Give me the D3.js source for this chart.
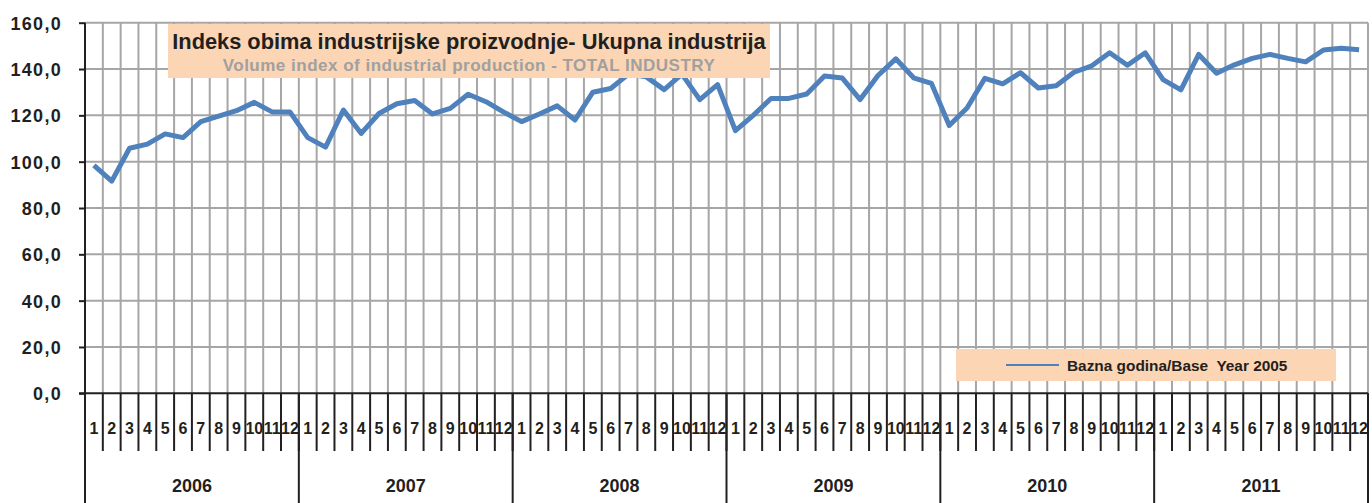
<!DOCTYPE html>
<html>
<head>
<meta charset="utf-8">
<script src="https://cdn.jsdelivr.net/npm/d3@7"></script>
<style>
  body { margin: 0; background: #fff; }
  svg { display: block; font-family: Arial, "Liberation Sans", sans-serif; }
  text { white-space: pre; }
</style>
</head>
<body>
<svg id="chart"></svg>
<script>
// monthly index, base year 2005
var years = [2006, 2007, 2008, 2009, 2010, 2011];
var months = [1, 2, 3, 4, 5, 6, 7, 8, 9, 10, 11, 12];
var v2006 = [98.4, 91.6, 105.8, 107.6, 112.0, 110.4, 117.3, 119.7, 122.0, 125.6, 121.5, 121.5];
var v2007 = [110.4, 106.3, 122.3, 112.2, 120.8, 125.0, 126.4, 120.6, 123.0, 129.1, 125.9, 121.4];
var v2008 = [117.3, 120.6, 124.1, 118.0, 130.0, 131.6, 137.8, 136.6, 131.1, 137.8, 126.8, 133.3];
var v2009 = [113.4, 120.0, 127.3, 127.3, 129.2, 137.0, 136.1, 126.8, 137.2, 144.4, 136.2, 133.8];
var v2010 = [115.6, 123.2, 136.0, 133.6, 138.4, 131.8, 132.8, 138.6, 141.4, 147.0, 141.6, 147.0];
var v2011 = [135.4, 131.0, 146.3, 138.2, 141.8, 144.6, 146.3, 144.6, 143.1, 148.2, 149.0, 148.3];
var yTicks = [0, 20, 40, 60, 80, 100, 120, 140, 160];
var titleText = "Indeks obima industrijske proizvodnje- Ukupna industrija";
var subtitleText = "Volume index of industrial production - TOTAL INDUSTRY";
var legendText = "Bazna godina/Base  Year 2005";

var values = [].concat(v2006, v2007, v2008, v2009, v2010, v2011);
var points = values.map(function(v, i){ return {i: i, v: v}; });

var screen = { width: 1372, height: 503 };
var plot = { left: 85, right: 1368, top: 22.7, bottom: 393.3 };
var black = "#231f20", grid = "#a6a6a6", peach = "#fcd5b4", blue = "#4f81bd";

var svg = d3.select("#chart")
            .attr("width", screen.width)
            .attr("height", screen.height);

var xScale = d3.scaleBand()
               .domain(d3.range(values.length))
               .range([plot.left, plot.right])
               .padding(0);
var yScale = d3.scaleLinear()
               .domain([0, 160])
               .range([plot.bottom, plot.top]);
var bw = xScale.bandwidth();

// horizontal grid
svg.append("g")
   .selectAll("line")
   .data(yTicks.filter(function(d){ return d > 0; }))
   .enter()
   .append("line")
   .attr("x1", plot.left).attr("x2", plot.right)
   .attr("y1", function(d){ return yScale(d); })
   .attr("y2", function(d){ return yScale(d); })
   .attr("stroke", grid).attr("stroke-width", 2);

// vertical grid at month boundaries
var bounds = d3.range(1, values.length + 1).map(function(i){
  return i < values.length ? xScale(i) : plot.right;
});
svg.append("g")
   .selectAll("line")
   .data(bounds)
   .enter()
   .append("line")
   .attr("x1", function(d){ return d; })
   .attr("x2", function(d){ return d; })
   .attr("y1", plot.top).attr("y2", plot.bottom)
   .attr("stroke", grid).attr("stroke-width", 2);

// y axis
var yAxis = d3.axisLeft(yScale)
              .tickValues(yTicks)
              .tickSize(6)
              .tickPadding(17)
              .tickFormat(function(d){ return d3.format(".1f")(d).replace(".", ","); });
var ya = svg.append("g")
            .attr("transform", "translate(" + plot.left + ",0)")
            .call(yAxis);
ya.select(".domain").remove();
ya.selectAll(".tick line").attr("stroke", black).attr("stroke-width", 2);
ya.selectAll(".tick text")
  .attr("fill", black)
  .attr("font-size", "18px")
  .attr("font-weight", "bold")
  .attr("letter-spacing", "1.3px")
  .attr("dy", "0.36em");

// data line
var line = d3.line()
             .x(function(d){ return xScale(d.i) + bw / 2; })
             .y(function(d){ return yScale(d.v); });
svg.append("path")
   .datum(points)
   .attr("d", line)
   .attr("fill", "none")
   .attr("stroke", blue)
   .attr("stroke-width", 5)
   .attr("stroke-linejoin", "round");

// axes lines
svg.append("line")
   .attr("x1", plot.left).attr("x2", plot.left)
   .attr("y1", plot.top).attr("y2", screen.height)
   .attr("stroke", black).attr("stroke-width", 2);
svg.append("line")
   .attr("x1", plot.left - 6).attr("x2", plot.right)
   .attr("y1", plot.bottom).attr("y2", plot.bottom)
   .attr("stroke", black).attr("stroke-width", 2);

// month ticks below axis
svg.append("g")
   .selectAll("line")
   .data(bounds)
   .enter()
   .append("line")
   .attr("x1", function(d){ return d; })
   .attr("x2", function(d){ return d; })
   .attr("y1", plot.bottom).attr("y2", 451)
   .attr("stroke", black).attr("stroke-width", 2);

// month labels
var xAxis = d3.axisBottom(xScale)
              .tickSize(0)
              .tickPadding(0)
              .tickFormat(function(i){ return months[i % 12]; });
var xa = svg.append("g")
            .attr("transform", "translate(0,428)")
            .call(xAxis);
xa.select(".domain").remove();
xa.selectAll(".tick text")
  .attr("fill", black)
  .attr("font-size", "16px")
  .attr("font-weight", "bold")
  .attr("dy", "0.36em");

// year separators and labels
var yearEdges = years.map(function(y, k){ return k === 0 ? plot.left : xScale(k * 12); }).concat([plot.right]);
svg.append("g")
   .selectAll("line")
   .data(yearEdges)
   .enter()
   .append("line")
   .attr("x1", function(d){ return d; })
   .attr("x2", function(d){ return d; })
   .attr("y1", plot.bottom).attr("y2", screen.height)
   .attr("stroke", black).attr("stroke-width", 2);
svg.append("g")
   .selectAll("text")
   .data(years)
   .enter()
   .append("text")
   .attr("x", function(d, k){ return (yearEdges[k] + yearEdges[k + 1]) / 2; })
   .attr("y", 492)
   .attr("text-anchor", "middle")
   .attr("fill", black)
   .attr("font-size", "18px")
   .attr("font-weight", "bold")
   .text(function(d){ return d; });

// title box
svg.append("rect")
   .attr("x", 168).attr("y", 24)
   .attr("width", 602).attr("height", 54)
   .attr("fill", peach);
svg.append("text")
   .attr("x", 469).attr("y", 49)
   .attr("text-anchor", "middle")
   .attr("fill", black)
   .attr("font-size", "21.8px")
   .attr("font-weight", "bold")
   .text(titleText);
svg.append("text")
   .attr("x", 469).attr("y", 71)
   .attr("text-anchor", "middle")
   .attr("fill", "#a0a0a0")
   .attr("font-size", "17px")
   .attr("font-weight", "bold")
   .attr("letter-spacing", "0.5px")
   .text(subtitleText);

// legend
svg.append("rect")
   .attr("x", 956).attr("y", 349)
   .attr("width", 380).attr("height", 32)
   .attr("fill", peach);
svg.append("line")
   .attr("x1", 1006).attr("x2", 1059)
   .attr("y1", 365).attr("y2", 365)
   .attr("stroke", blue).attr("stroke-width", 2);
svg.append("text")
   .attr("x", 1067).attr("y", 371)
   .attr("fill", black)
   .attr("font-size", "15.4px")
   .attr("font-weight", "bold")
   .text(legendText);
</script>
</body>
</html>
